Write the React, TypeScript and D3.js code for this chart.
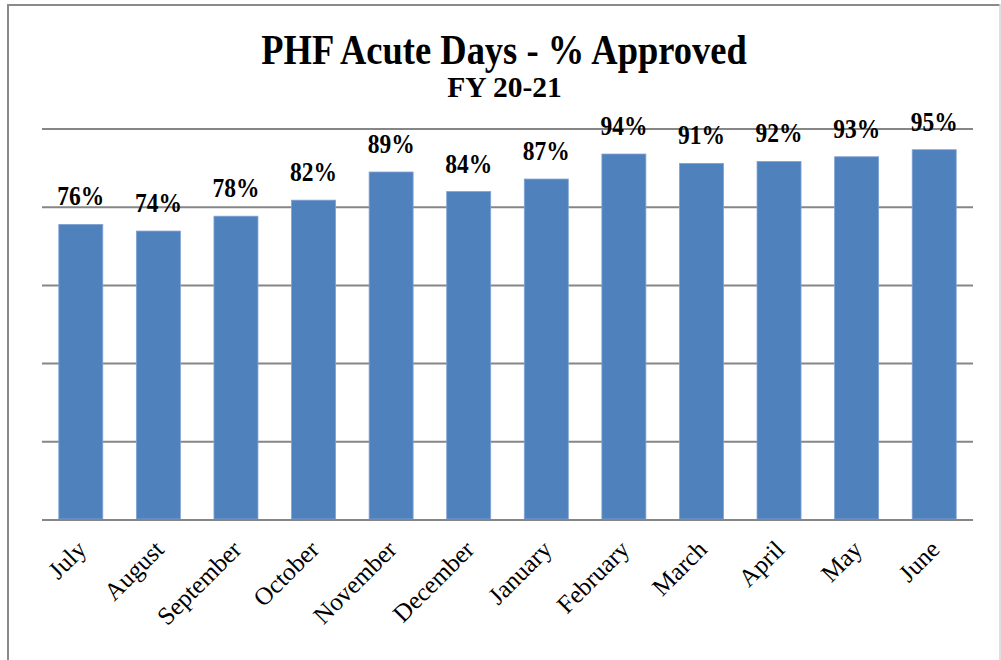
import React from "react";
import * as d3 from "d3";

const months = ["July", "August", "September", "October", "November", "December", "January", "February", "March", "April", "May", "June"];
const approved = [75.6, 73.9, 77.7, 81.8, 89.0, 84.0, 87.2, 93.6, 91.2, 91.7, 92.9, 94.7];
const yTicks = [0, 20, 40, 60, 80, 100];
const title = "PHF Acute Days - % Approved";
const subtitle = "FY 20-21";

export default function App() {
  const W = 1001, H = 660;
  const left = 42, right = 973, top = 129, bottom = 520;
  const x = d3.scaleBand<string>().domain(months).range([left, right]).paddingInner(0.433).paddingOuter(0.2165);
  const y = d3.scaleLinear().domain([0, 100]).range([bottom, top]);
  const font = "'Liberation Serif', 'Times New Roman', serif";
  return (
    <svg width={W} height={H} style={{ position: "absolute", left: 0, top: 0, background: "#fff" }} fontFamily={font}>
      <rect x={0} y={0} width={W} height={H} fill="#fff" />
      {/* frame */}
      <line x1={8} y1={4} x2={8} y2={H} stroke="#8a8a8a" strokeWidth={2} />
      <line x1={7} y1={5} x2={1000} y2={5} stroke="#8a8a8a" strokeWidth={2} />
      <line x1={1000} y1={4} x2={1000} y2={H} stroke="#d4d4d4" strokeWidth={1.5} />
      {/* title */}
      <text transform={`translate(504,64) scale(1,1.18)`} textAnchor="middle" fontSize={36.5} fontWeight="bold" fill="#000">{title}</text>
      <text x={504.5} y={97} textAnchor="middle" fontSize={29.5} fontWeight="bold" fill="#000">{subtitle}</text>
      {/* gridlines */}
      {yTicks.map((t) => (
        <line key={t} x1={left} x2={right} y1={y(t)} y2={y(t)} stroke="#868686" strokeWidth={2} />
      ))}
      {/* bars */}
      {approved.map((v, i) => (
        <rect key={months[i]} x={x(months[i])!} y={y(v)} width={x.bandwidth()} height={bottom - 1 - y(v)} fill="#4f81bd" stroke="#7fa2d3" strokeWidth={0.8} />
      ))}
      {/* baseline */}
      <line x1={left} x2={right} y1={bottom} y2={bottom} stroke="#868686" strokeWidth={2} />
      {/* value labels */}
      {approved.map((v, i) => (
        <text key={"l" + i} transform={`translate(${x(months[i])! + x.bandwidth() / 2},${y(v) - 19}) scale(1,1.12)`} textAnchor="middle" fontSize={23.5} fontWeight="bold" fill="#000">
          {Math.round(v)}%
        </text>
      ))}
      {/* x labels */}
      {months.map((m) => (
        <text key={"x" + m} transform={`translate(${x(m)! + x.bandwidth() / 2 + 7},551) rotate(-45)`} textAnchor="end" fontSize={25} fill="#000">
          {m}
        </text>
      ))}
    </svg>
  );
}
